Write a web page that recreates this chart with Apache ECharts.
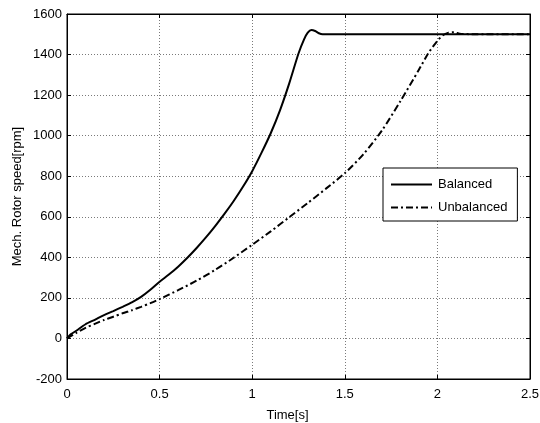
<!DOCTYPE html>
<html>
<head>
<meta charset="utf-8">
<script src="https://cdn.jsdelivr.net/npm/echarts@6/dist/echarts.min.js"></script>
<style>
  html, body { margin: 0; padding: 0; background: #fff; }
  #chart { width: 540px; height: 423px; }
</style>
</head>
<body>
<div id="chart"></div>
<script>
// time [s] and speed [rpm]
var balancedT = [0, 0.02, 0.05, 0.1, 0.15, 0.2, 0.25, 0.3, 0.35, 0.4, 0.45, 0.5, 0.55, 0.6, 0.65, 0.7, 0.75, 0.8, 0.85, 0.9, 0.95, 1.0, 1.05, 1.1, 1.15, 1.2, 1.25, 1.28, 1.3, 1.32, 1.34, 1.36, 1.38, 1.4, 2.5];
var balancedV = [0, 20, 38, 70, 92, 115, 135, 156, 178, 205, 240, 280, 315, 354, 398, 446, 498, 554, 614, 678, 748, 825, 915, 1012, 1125, 1258, 1405, 1475, 1508, 1521, 1516, 1505, 1500, 1500, 1500];

var unbalancedT = [0, 0.05, 0.1, 0.15, 0.2, 0.25, 0.3, 0.35, 0.4, 0.45, 0.5, 0.6, 0.7, 0.8, 0.9, 1.0, 1.1, 1.2, 1.3, 1.4, 1.5, 1.6, 1.7, 1.8, 1.9, 1.95, 2.0, 2.03, 2.06, 2.09, 2.12, 2.2, 2.5];
var unbalancedV = [0, 27, 52, 72, 91, 107, 124, 139, 156, 174, 194, 238, 285, 338, 398, 462, 528, 598, 668, 740, 815, 908, 1025, 1170, 1325, 1405, 1468, 1495, 1508, 1510, 1503, 1500, 1500];

var seriesNames = ["Balanced", "Unbalanced"];

function pairs(t, v) {
  var out = [];
  for (var i = 0; i < t.length; i++) {
    out.push([t[i], v[i]]);
  }
  return out;
}

var font = "Liberation Sans";
var gridLine = { show: true, lineStyle: { color: "#7a7a7a", type: [1, 2], width: 1 } };
var tickIn = { show: true, inside: true, length: 4, lineStyle: { color: "#000" } };
var plain = function (v) { return String(v); };

// legend line samples (41 x 2)
var solidIcon = "path://M0,0H41V2H0Z";
var dashDotIcon = "path://M0,0H7V2H0Z M10,0H12V2H10Z M15,0H22V2H15Z M25,0H27V2H25Z M30,0H37V2H30Z M40,0H41V2H40Z";

var myChart = echarts.init(document.getElementById("chart"));
myChart.setOption({
  animation: false,
  grid: {
    left: 67, right: 10, top: 14, bottom: 44,
    outerBoundsMode: "none",
    show: true, borderColor: "#000", borderWidth: 1
  },
  legend: {
    data: [
      { name: seriesNames[0], icon: solidIcon },
      { name: seriesNames[1], icon: dashDotIcon }
    ],
    orient: "vertical",
    left: 383,
    top: 168,
    width: 134,
    padding: [10, 10, 7, 8],
    itemWidth: 41,
    itemHeight: 2,
    itemGap: 10,
    backgroundColor: "#fff",
    borderColor: "#000",
    borderWidth: 1,
    borderRadius: 0,
    itemStyle: { color: "#000", borderWidth: 0 },
    textStyle: { fontFamily: font, fontSize: 13, color: "#000", padding: [0, 12, 0, 1] }
  },
  xAxis: [
    {
      type: "value",
      min: 0,
      max: 2.5,
      interval: 0.5,
      name: "Time[s]",
      nameLocation: "middle",
      nameGap: 30,
      nameTextStyle: { fontFamily: font, fontSize: 13, color: "#000", padding: [0, 22, 0, 0] },
      axisLine: { show: true, onZero: false, lineStyle: { color: "#000", width: 1 } },
      axisTick: tickIn,
      axisLabel: { fontFamily: font, fontSize: 13, color: "#000", margin: 9, formatter: plain },
      splitLine: gridLine
    },
    {
      type: "value",
      position: "top",
      min: 0,
      max: 2.5,
      interval: 0.5,
      axisLine: { show: true, onZero: false, lineStyle: { color: "#000", width: 1 } },
      axisTick: tickIn,
      axisLabel: { show: false },
      splitLine: { show: false }
    }
  ],
  yAxis: [
    {
      type: "value",
      min: -200,
      max: 1600,
      interval: 200,
      name: "Mech. Rotor speed[rpm]",
      nameLocation: "middle",
      nameGap: 43,
      nameMoveOverlap: false,
      nameTextStyle: { fontFamily: font, fontSize: 13, color: "#000" },
      axisLine: { show: true, onZero: false, lineStyle: { color: "#000", width: 1 } },
      axisTick: tickIn,
      axisLabel: { fontFamily: font, fontSize: 13, color: "#000", margin: 5, formatter: plain },
      splitLine: gridLine
    },
    {
      type: "value",
      position: "right",
      min: -200,
      max: 1600,
      interval: 200,
      axisLine: { show: true, onZero: false, lineStyle: { color: "#000", width: 1 } },
      axisTick: tickIn,
      axisLabel: { show: false },
      splitLine: { show: false }
    }
  ],
  series: [
    {
      name: seriesNames[0],
      type: "line",
      symbol: "none",
      smooth: 0.25,
      data: pairs(balancedT, balancedV),
      lineStyle: { color: "#000", width: 2, type: "solid" },
      itemStyle: { color: "#000" }
    },
    {
      name: seriesNames[1],
      type: "line",
      symbol: "none",
      smooth: 0.25,
      data: pairs(unbalancedT, unbalancedV),
      lineStyle: { color: "#000", width: 2, type: [7, 3, 2, 3] },
      itemStyle: { color: "#000" }
    }
  ]
});
</script>
</body>
</html>
